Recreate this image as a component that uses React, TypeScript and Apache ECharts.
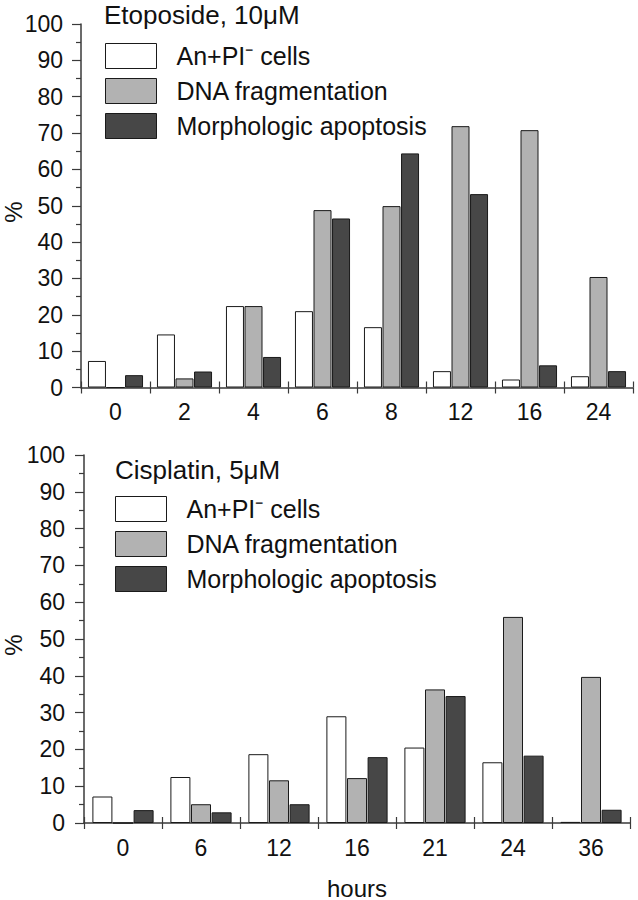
import React, { useEffect, useRef } from "react";
import * as echarts from "echarts";

const topCats = ["0", "2", "4", "6", "8", "12", "16", "24"];
const topAnnexin = [7.3, 14.6, 22.4, 21.0, 16.6, 4.5, 2.2, 3.1];
const topDNA = [0, 2.5, 22.4, 48.8, 49.9, 71.9, 70.8, 30.4];
const topMorph = [3.4, 4.4, 8.4, 46.5, 64.4, 53.2, 6.1, 4.5];

const botCats = ["0", "6", "12", "16", "21", "24", "36"];
const botAnnexin = [7.2, 12.5, 18.7, 29.0, 20.5, 16.5, 0.3];
const botDNA = [0, 5.1, 11.6, 12.2, 36.3, 56.0, 39.7];
const botMorph = [3.5, 2.9, 5.1, 17.9, 34.5, 18.3, 3.6];

const seriesNames = ["An+PI\u207B cells", "DNA fragmentation", "Morphologic apoptosis"];
const seriesColors = ["#ffffff", "#b2b2b2", "#474747"];

const FONT = "'Liberation Sans', Arial, Helvetica, sans-serif";
const AXIS_COLOR = "#3a3a3a";

export default function App() {
  const ref = useRef<HTMLDivElement>(null);
  useEffect(() => {
    document.body.style.margin = "0";
    if (!ref.current) return;
    const chart = echarts.init(ref.current, null, { renderer: "svg" });

    const grids = [
      { left: 81, top: 24, width: 552, height: 363.5 },
      { left: 84, top: 455, width: 546, height: 368 },
    ];

    const yAxisFor = (gi: number, margin: number) => ({
      type: "value",
      gridIndex: gi,
      min: 0,
      max: 100,
      interval: 10,
      axisLine: { show: true, lineStyle: { color: AXIS_COLOR, width: 1.5 } },
      axisTick: { show: true, inside: false, length: 9, lineStyle: { color: AXIS_COLOR, width: 1.2 } },
      minorTick: { show: true, splitNumber: 2, length: 5, lineStyle: { color: AXIS_COLOR, width: 1.2 } },
      splitLine: { show: false },
      axisLabel: { fontSize: 23, color: "#111", fontFamily: FONT, margin },
    });

    const xAxisMain = (gi: number, cats: string[]) => ({
      type: "category",
      gridIndex: gi,
      data: cats,
      position: "bottom",
      axisLine: { show: true, onZero: false, lineStyle: { color: AXIS_COLOR, width: 1.5 } },
      axisTick: { show: true, inside: false, length: 6, lineStyle: { color: AXIS_COLOR, width: 1.2 } },
      axisLabel: { fontSize: 23, color: "#111", fontFamily: FONT, margin: 13 },
      splitLine: { show: false },
    });

    const xAxisUpTicks = (gi: number, cats: string[], h: number) => ({
      type: "category",
      gridIndex: gi,
      data: cats,
      position: "top",
      offset: -h,
      axisLine: { show: false, onZero: false },
      axisTick: { show: true, inside: false, length: 6, lineStyle: { color: AXIS_COLOR, width: 1.2 } },
      axisLabel: { show: false },
      splitLine: { show: false },
    });

    const mkSeries = (gi: number, xi: number, arrs: number[][], barWidth: number) =>
      arrs.map((d, i) => ({
        name: seriesNames[i],
        type: "bar",
        xAxisIndex: xi,
        yAxisIndex: gi,
        data: d,
        barWidth,
        barGap: "3%",
        itemStyle: { color: seriesColors[i], borderColor: "#1a1a1a", borderWidth: 1 },
      }));

    const legendFor = (left: number, top: number) => ({
      orient: "vertical",
      left,
      top,
      padding: 0,
      icon: "rect",
      itemWidth: 51,
      itemHeight: 25,
      itemGap: 9,
      selectedMode: false,
      data: seriesNames,
      textStyle: { fontSize: 25, lineHeight: 25, color: "#111", fontFamily: FONT, padding: [0, 0, 0, 15] },
      itemStyle: { borderColor: "#1a1a1a", borderWidth: 1 },
    });

    chart.setOption({
      animation: false,
      backgroundColor: "#ffffff",
      textStyle: { fontFamily: FONT },
      grid: grids,
      xAxis: [
        xAxisMain(0, topCats),
        xAxisMain(1, botCats),
        xAxisUpTicks(0, topCats, grids[0].height),
        xAxisUpTicks(1, botCats, grids[1].height),
      ],
      yAxis: [yAxisFor(0, 18), yAxisFor(1, 19)],
      legend: [legendFor(105, 43), legendFor(115, 496)],
      series: [
        ...mkSeries(0, 0, [topAnnexin, topDNA, topMorph], 18),
        ...mkSeries(1, 1, [botAnnexin, botDNA, botMorph], 20),
      ],
      graphic: [
        {
          type: "text",
          x: 104,
          y: 15,
          style: { text: "Etoposide, 10\u03BCM", fontSize: 26, fontFamily: FONT, fill: "#111", textVerticalAlign: "middle" },
        },
        {
          type: "text",
          x: 115,
          y: 470,
          style: { text: "Cisplatin, 5\u03BCM", fontSize: 26, fontFamily: FONT, fill: "#111", textVerticalAlign: "middle" },
        },
        {
          type: "text",
          x: 13,
          y: 212,
          rotation: Math.PI / 2,
          style: { text: "%", fontSize: 24, fontFamily: FONT, fill: "#111", textAlign: "center", textVerticalAlign: "middle" },
        },
        {
          type: "text",
          x: 13,
          y: 645,
          rotation: Math.PI / 2,
          style: { text: "%", fontSize: 24, fontFamily: FONT, fill: "#111", textAlign: "center", textVerticalAlign: "middle" },
        },
        {
          type: "text",
          x: 357,
          y: 888,
          style: { text: "hours", fontSize: 24, fontFamily: FONT, fill: "#111", textAlign: "center", textVerticalAlign: "middle" },
        },
      ],
    });
    return () => chart.dispose();
  }, []);
  return <div ref={ref} style={{ width: 638, height: 900 }} />;
}
